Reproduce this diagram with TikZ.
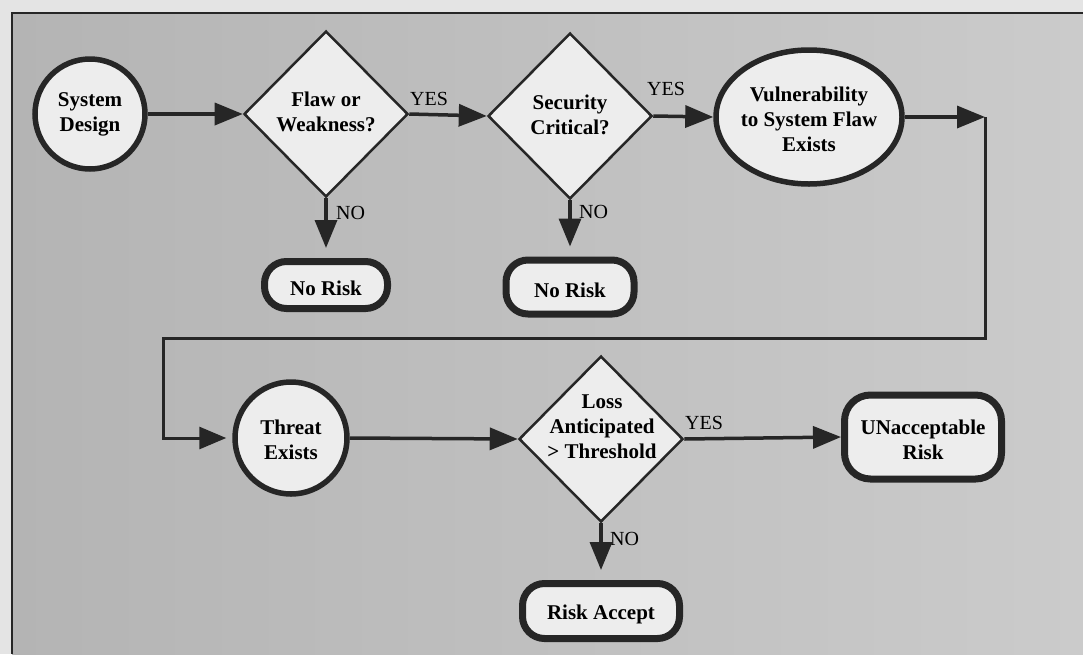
\documentclass[tikz,border=0pt]{standalone}
\usepackage{fontspec}
\setmainfont{Liberation Serif}
\usetikzlibrary{shapes.geometric,arrows.meta}
\definecolor{inkc}{HTML}{262626}
\definecolor{nodefill}{HTML}{EDEDED}
\definecolor{bgout}{HTML}{E4E4E4}
\definecolor{bgleft}{HTML}{B4B4B4}
\definecolor{bgright}{HTML}{CBCBCB}
\begin{document}
\begin{tikzpicture}[x=1pt,y=-1pt,
  circ/.style={circle, draw=inkc, fill=nodefill, line width=5.5pt, minimum size=#1, inner sep=0pt},
  dia/.style={diamond, draw=inkc, fill=nodefill, line width=2.5pt, minimum width=164pt, minimum height=166pt, inner sep=0pt},
  ell/.style={ellipse, draw=inkc, fill=nodefill, line width=5.5pt, minimum width=186pt, minimum height=134pt, inner sep=0pt},
  term/.style={rectangle, rounded corners=22pt, draw=inkc, fill=nodefill, line width=7pt, inner sep=0pt},
  txt/.style={font=\fontsize{21}{25}\selectfont\bfseries, align=center, inner sep=0pt},
  lbl/.style={font=\fontsize{20}{24}\selectfont, inner sep=0pt, anchor=west},
  arr/.style={draw=inkc, line width=3.5pt, -{Triangle[length=28pt,width=22pt]}},
  retarr/.style={draw=inkc, line width=3pt, -{Triangle[length=27pt,width=22pt]}},
  ]
\useasboundingbox (0,0) rectangle (1083,654);
% background
\fill[bgout] (0,0) rectangle (1083,654);
\shade[left color=bgleft, right color=bgright] (12,13) rectangle (1083,654);
\draw[inkc, line width=2pt] (12,654) -- (12,13) -- (1083,13);

% nodes
\node[circ=110pt] (sd) at (90,114) {};
\node[txt] (sdt) at (sd) {System\\Design};

\node[dia] (d1) at (326,114) {};
\node[txt] (d1t) at (326,112) {Flaw or\\Weakness?};

\node[dia] (d2) at (570,116) {};
\node[txt] (d2t) at (570,115) {Security\\Critical?};

\node[ell] (v) at (809,117) {};
\node[txt] (vt) at (809,119) {Vulnerability\\to System Flaw\\Exists};

\node[term, minimum width=123pt, minimum height=47pt] (nr1) at (326,285) {};
\node[txt] (nr1t) at (326,288) {No Risk};

\node[term, minimum width=128pt, minimum height=54pt] (nr2) at (570,287) {};
\node[txt] (nr2t) at (570,290) {No Risk};

\node[circ=112pt] (th) at (291,438) {};
\node[txt] (tht) at (291,440) {Threat\\Exists};

\node[dia] (d3) at (601,439) {};
\node[txt] (d3t) at (602,427) {Loss\\Anticipated\\{>} Threshold};

\node[term, minimum width=157pt, minimum height=55pt] (ra) at (601,611) {};
\node[txt] (rat) at (601,614) {Risk Accept};

\node[term, rounded corners=26pt, minimum width=157pt, minimum height=84pt] (ua) at (923,437) {};
\node[txt] (uat) at (923,440) {UNacceptable\\Risk};

% connector corners
\coordinate (c1) at (985,117);
\coordinate (c2) at (163,338);

% connectors
\draw[arr] (sd) -- (d1);
\draw[arr] (d1.east) -- (d2.west);
\draw[arr] (d2.east) -- (v.west);
\draw[arr] (v.east) -- (c1);
\draw[retarr, shorten >=6pt] (c1) |- (c2) |- (th.west);
\draw[arr, shorten >=10pt] (d1.south) -- (nr1.north);
\draw[arr, shorten >=10pt] (d2.south) -- (nr2.north);
\draw[arr] (th.east) -- (d3.west);
\draw[arr, shorten >=10pt] (d3.south) -- (ra.north);
\draw[arr] (d3.east) -- (ua.west);

% labels
\node[lbl] (yes1) at (410,99) {YES};
\node[lbl] (yes2) at (647,89) {YES};
\node[lbl] (yes3) at (685,423) {YES};
\node[lbl] (no1) at (336,213) {NO};
\node[lbl] (no2) at (579,212) {NO};
\node[lbl] (no3) at (610,539) {NO};
\end{tikzpicture}
\end{document}
